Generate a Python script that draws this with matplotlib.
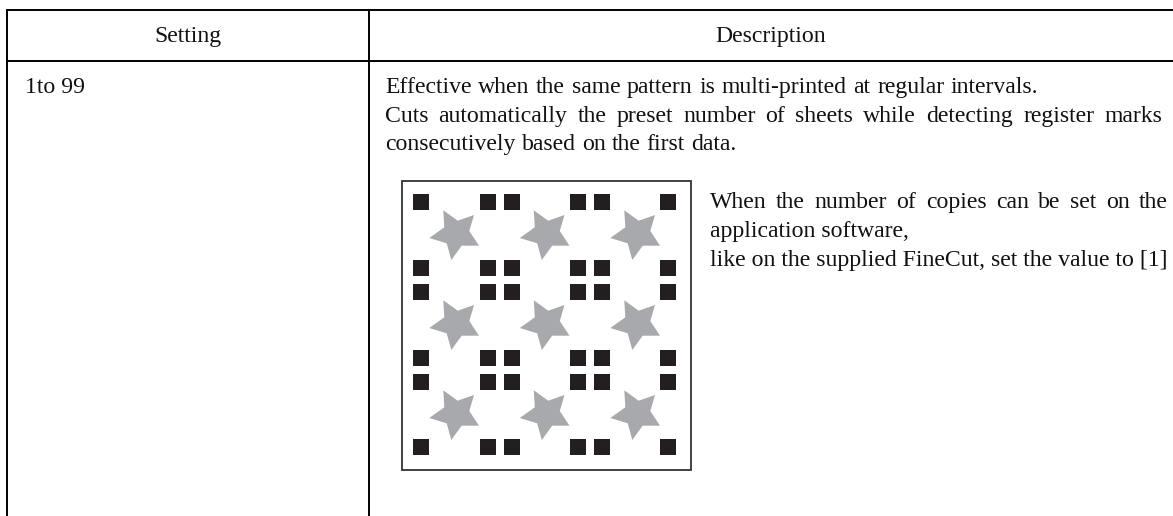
import matplotlib
matplotlib.use('Agg')
import matplotlib.pyplot as plt
from matplotlib.patches import Polygon, Rectangle

# table text
headers = ['Setting', 'Description']
setting_value = '1to 99'
desc_lines = ['Effective when the same pattern is multi-printed at regular intervals.',
              'Cuts automatically the preset number of sheets while detecting register marks',
              'consecutively based on the first data.']
note_lines = ['When the number of copies can be set on the',
              'application software,',
              'like on the supplied FineCut, set the value to [1]']

# register marks in the inset drawing (left / top edges)
mark_x = [413, 480, 504, 570, 594, 660]
mark_y = [194, 260, 284, 350, 374, 439]
# stars in the inset drawing (offset of each copy from the first)
star_dx = [0, 90.5, 181]
star_dy = [0, 90, 180]
star_shape = [(443.3, 210.3), (457.7, 220.7), (474, 215), (469.3, 231), (479, 245.7),
              (461.7, 245.7), (451.3, 260), (446.7, 243.3), (429.3, 238), (444.3, 227.3)]

plt.rcParams['font.family'] = ['Liberation Serif', 'DejaVu Serif']
fig = plt.figure(figsize=(11.73, 5.16), dpi=100)
ax = fig.add_axes([0, 0, 1, 1])
ax.set_xlim(0, 1173)
ax.set_ylim(516, 0)
ax.axis('off')

FS = 17.1


def justified(text, x0, x1, y):
    # spread the words so that the line fills x0..x1
    words = text.split(' ')
    r = fig.canvas.get_renderer()
    items = [ax.text(x0, y, w, fontsize=FS, va='baseline', ha='left', color='#111111') for w in words]
    widths = [t.get_window_extent(r).width for t in items]
    gap = (x1 - x0 - sum(widths)) / (len(words) - 1)
    x = x0
    for t, w in zip(items, widths):
        t.set_x(x)
        x += w + gap


# table lines
ax.plot([7, 1173], [10, 10], color='black', lw=1.4)
ax.plot([7, 1173], [61, 61], color='black', lw=1.4)
ax.plot([7, 7], [10, 516], color='black', lw=1.4)
ax.plot([369, 369], [10, 516], color='black', lw=1.4)

ax.text(187.5, 41.7, headers[0], fontsize=FS, ha='center', va='baseline', color='#111111')
ax.text(771, 41.7, headers[1], fontsize=FS, ha='center', va='baseline', color='#111111')
ax.text(25, 92.7, setting_value, fontsize=FS, va='baseline', color='#111111')

justified(desc_lines[0], 385, 1038.5, 92.7)
justified(desc_lines[1], 385, 1162, 121.7)
justified(desc_lines[2], 385, 736.5, 150)

justified(note_lines[0], 710, 1168, 207.7)
ax.text(710, 236.7, note_lines[1], fontsize=FS, va='baseline', color='#111111')
ax.text(710, 265.7, note_lines[2], fontsize=FS, va='baseline', color='#111111')

# inset drawing
ax.add_patch(Rectangle((402, 181), 289, 289, fill=False, ec='#333333', lw=1.3))
for mx in mark_x:
    for my in mark_y:
        ax.add_patch(Rectangle((mx, my), 16, 16, fc='#231f20', ec='none'))
for dy in star_dy:
    for dx in star_dx:
        ax.add_patch(Polygon([(px + dx, py + dy) for px, py in star_shape], fc='#a7a9ac', ec='none'))

fig.savefig('out.png', dpi=100)
